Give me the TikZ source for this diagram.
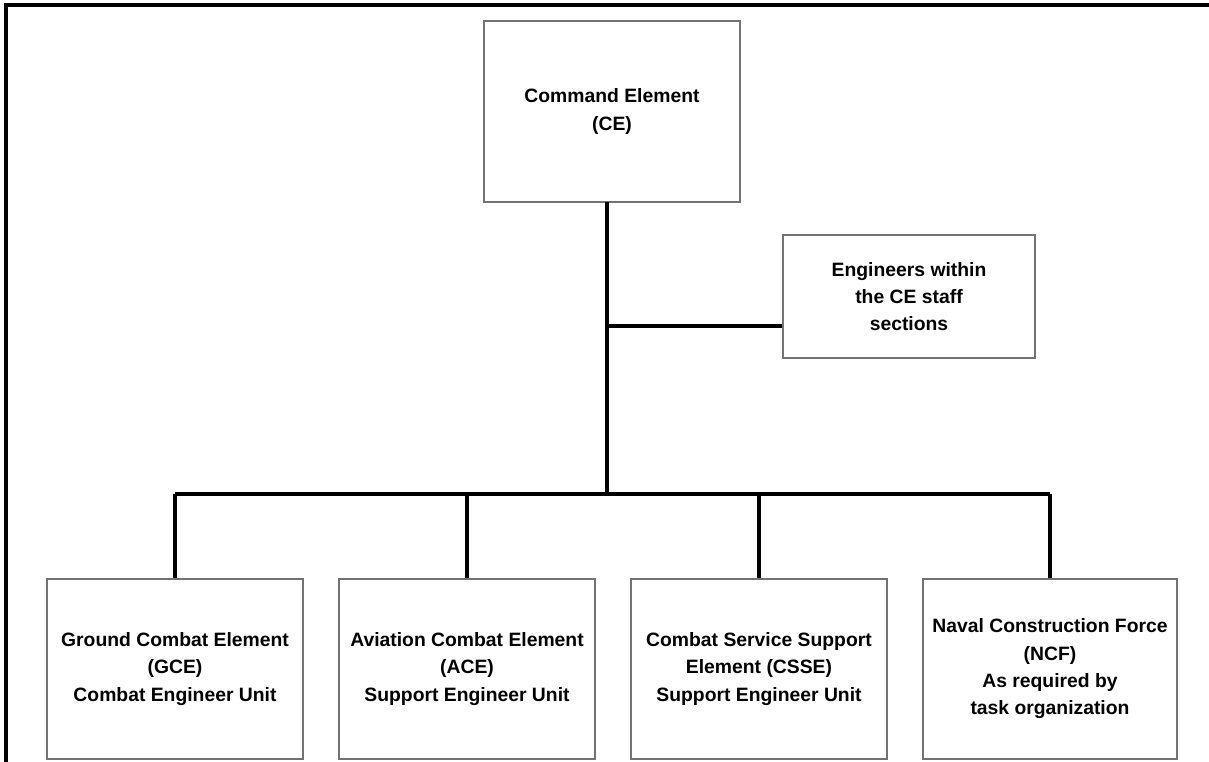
\documentclass[tikz,border=0pt]{standalone}
\usepackage{fontspec}
\setmainfont{Liberation Sans}
\begin{document}
\begin{tikzpicture}[x=0.75pt,y=-0.75pt,
  box/.style={draw=black!55,line width=1.2pt,fill=white,align=center,
    font=\bfseries\fontsize{14.5}{20.5}\selectfont,inner sep=0pt,
    minimum width=#1*0.75pt},
  box/.default=256,
  conn/.style={line width=2.3pt,black},
  frame/.style={line width=2.3pt,black}]
\useasboundingbox (0,0) rectangle (1209,762);
% frame
\coordinate (fTR) at (1209,5);
\coordinate (fTL) at (6,5);
\coordinate (fBL) at (6,762);
\draw[frame] (fTR) -- (fTL) -- (fBL);
% nodes
\node[box=256,minimum height=181*0.75pt] (ce) at (612,111.5) {Command Element\\(CE)};
\node[box=252,minimum height=123*0.75pt] (eng) at (909,296.5) {Engineers within\\the CE staff\\sections};
\node[box=256,minimum height=180*0.75pt] (gce) at (175,669) {Ground Combat Element\\(GCE)\\Combat Engineer Unit};
\node[box=256,minimum height=180*0.75pt] (ace) at (467,669) {Aviation Combat Element\\(ACE)\\Support Engineer Unit};
\node[box=256,minimum height=180*0.75pt] (csse) at (759,669) {Combat Service Support\\Element (CSSE)\\Support Engineer Unit};
\node[box=254,minimum height=180*0.75pt] (ncf) at (1050,669) {Naval Construction Force\\(NCF)\\As required by\\task organization};
% connectors
\coordinate (top) at (607,202);
\coordinate (br) at (607,326);
\coordinate (bus) at (607,494);
\coordinate (busL) at (gce.north |- bus);
\coordinate (busR) at (ncf.north |- bus);
\draw[conn] (top) -- (bus);
\draw[conn] (br) -- (eng.west |- br);
\draw[conn] (busL) -- (busR);
\draw[conn] (busL) -- (gce.north);
\draw[conn] (ace.north |- bus) -- (ace.north);
\draw[conn] (csse.north |- bus) -- (csse.north);
\draw[conn] (busR) -- (ncf.north);
\end{tikzpicture}
\end{document}
